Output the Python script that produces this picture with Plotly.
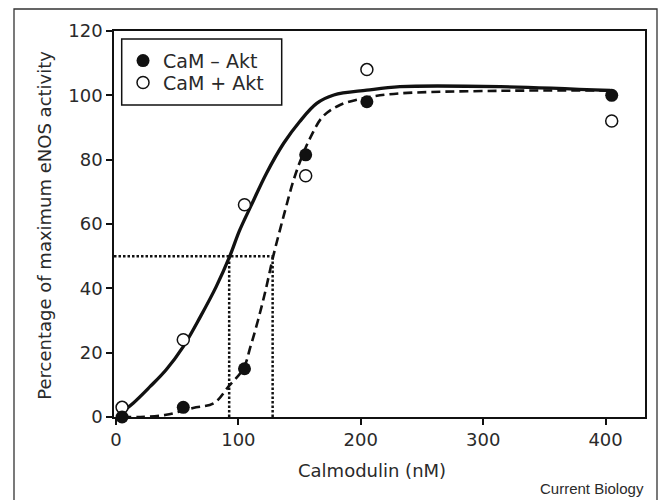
import plotly.graph_objects as go

# Measured data points
cam_x = [5, 55, 105, 155, 205, 405]
cam_minus_akt = [0, 3, 15, 81.5, 98, 100]
cam_plus_akt = [3, 24, 66, 75, 108, 92]

# Fitted curves
fit_plus_x = [3, 14, 28, 41, 55, 69, 82, 93, 101, 110, 123, 137, 150, 164, 178, 205, 232, 314, 404]
fit_plus_y = [1, 4.3, 9.5, 14.7, 21.9, 31.2, 40.6, 50, 58, 65.4, 75.8, 85.1, 91.8, 97.5, 100.1, 101.6, 102.7, 102.7, 101.5]
fit_minus_x = [5, 20, 41, 63, 80, 92, 104, 110, 116, 122, 128.5, 137, 145, 152, 159, 169, 183, 205, 232, 314, 404]
fit_minus_y = [0, 0, 0.7, 2.8, 4.3, 9.5, 15, 22, 30, 39, 50, 62.5, 73.5, 81, 87, 93.4, 97, 99.3, 100.6, 101.4, 101.5]

# Half-maximum guide lines
half_max = 50
ec50_plus = 92.5
ec50_minus = 128
x_start = -1.6

x_ticks = [0, 100, 200, 300, 400]
y_ticks = [0, 20, 40, 60, 80, 100, 120]

INK = "#111111"
TXT = "#2a2a2a"
FONT = "DejaVu Sans"

fig = go.Figure()

dot = dict(color=INK, width=2.5, dash="2.5px,2px")
fig.add_trace(go.Scatter(x=[x_start, ec50_minus], y=[half_max, half_max], mode="lines",
                         line=dot, showlegend=False, hoverinfo="skip"))
fig.add_trace(go.Scatter(x=[ec50_plus, ec50_plus], y=[0, half_max], mode="lines",
                         line=dot, showlegend=False, hoverinfo="skip"))
fig.add_trace(go.Scatter(x=[ec50_minus, ec50_minus], y=[0, half_max], mode="lines",
                         line=dot, showlegend=False, hoverinfo="skip"))

fig.add_trace(go.Scatter(x=fit_minus_x, y=fit_minus_y, mode="lines", line_shape="spline",
                         line=dict(color=INK, width=2.6, dash="9px,5px"), showlegend=False))
fig.add_trace(go.Scatter(x=fit_plus_x, y=fit_plus_y, mode="lines", line_shape="spline",
                         line=dict(color=INK, width=3.3), showlegend=False))

fig.add_trace(go.Scatter(x=cam_x, y=cam_plus_akt, mode="markers", name="CaM + Akt",
                         legend="legend2",
                         marker=dict(symbol="circle", size=12, color="white",
                                     line=dict(color=INK, width=1.5)),
                         cliponaxis=False))
fig.add_trace(go.Scatter(x=cam_x, y=cam_minus_akt, mode="markers", name="CaM \u2013 Akt",
                         legend="legend",
                         marker=dict(symbol="circle", size=13, color=INK,
                                     line=dict(width=0)),
                         cliponaxis=False))

axis_common = dict(showline=True, linecolor=INK, linewidth=1.5, mirror=True,
                   ticks="outside", ticklen=6, tickwidth=1.5, tickcolor=INK,
                   showgrid=False, zeroline=False,
                   tickfont=dict(family=FONT, size=18, color=TXT))

leg_common = dict(x=0.017, xanchor="left", yanchor="middle",
                  bgcolor="rgba(0,0,0,0)", borderwidth=0,
                  font=dict(family=FONT, size=19, color=TXT))

fig.update_layout(
    width=661, height=500,
    margin=dict(l=114, r=16, t=31, b=83),
    paper_bgcolor="white", plot_bgcolor="white",
    xaxis=dict(range=[x_start, 432.2], tickvals=x_ticks, **axis_common),
    yaxis=dict(range=[0, 120], tickvals=y_ticks, **axis_common),
    legend=dict(y=(417 - 60.7) / 386, **leg_common),
    legend2=dict(y=(417 - 82.7) / 386, **leg_common),
    font=dict(family=FONT, color=TXT),
    shapes=[
        # legend box
        dict(type="rect", xref="paper", yref="paper",
             x0=(121.7 - 114) / 531, x1=(281.7 - 114) / 531,
             y0=(417 - 105) / 386, y1=(417 - 39) / 386,
             line=dict(color=INK, width=1.5), fillcolor="rgba(0,0,0,0)"),
        # outer frame
        dict(type="rect", xref="paper", yref="paper",
             x0=(14 - 114) / 531, x1=(657 - 114) / 531,
             y0=(417 - 510) / 386, y1=(417 - 9) / 386,
             line=dict(color="#333333", width=1.3), fillcolor="rgba(0,0,0,0)", layer="below"),
    ],
    annotations=[
        dict(text="Calmodulin (nM)", xref="paper", yref="paper",
             x=(372 - 114) / 531, y=(417 - 470) / 386, xanchor="center", yanchor="middle",
             showarrow=False, font=dict(family=FONT, size=18, color=TXT)),
        dict(text="Percentage of maximum eNOS activity", xref="paper", yref="paper",
             x=(45 - 114) / 531, y=(417 - 225.7) / 386, xanchor="center", yanchor="middle",
             textangle=-90, showarrow=False, font=dict(family=FONT, size=18, color=TXT)),
        dict(text="Current Biology", xref="paper", yref="paper",
             x=1.0015, y=(417 - 488) / 386, xanchor="right", yanchor="middle",
             showarrow=False, font=dict(family="Liberation Sans, Arial", size=15, color=TXT)),
    ],
)

fig.write_html("out.html", config={"displayModeBar": False},
               post_script="document.body.style.margin='0';document.body.style.overflow='hidden';")
